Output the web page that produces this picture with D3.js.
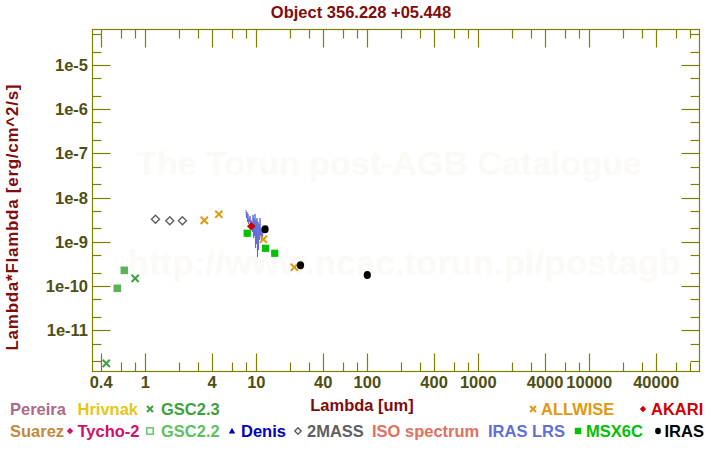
<!DOCTYPE html>
<html><head><meta charset="utf-8">
<script src="https://cdn.jsdelivr.net/npm/d3@7"></script>
<style>
body{margin:0;background:#fff}
svg{display:block}
text{font-family:"Liberation Sans",Arial,Helvetica,sans-serif;font-weight:bold}
</style>
</head><body>
<svg id="c" width="720" height="450"></svg>
<script>
// ---------- data ----------
const title = "Object 356.228 +05.448";
const xLabel = "Lambda [um]";
const yLabel = "Lambda*Flambda [erg/cm^2/s]";
const xTickLabels = ["0.4","1","4","10","40","100","400","1000","4000","10000","40000"];
const yTickLabels = ["1e-5","1e-6","1e-7","1e-8","1e-9","1e-10","1e-11"];
const watermark1 = "The Torun post-AGB Catalogue";
const watermark2 = "http://www.ncac.torun.pl/postagb";

// [lambda (um), lambda*F_lambda (erg/cm^2/s)]
const gsc23   = [[0.81,1.49e-10],[0.445,1.78e-12]];
const gsc22   = [[0.56,8.87e-11],[0.647,2.26e-10]];
const twoMass = [[1.235,3.23e-9],[1.662,3.0e-9],[2.159,3.0e-9]];
const allwise = [[3.4,3.06e-9],[4.6,4.19e-9],[11.6,1.14e-9],[22,2.65e-10]];
const akari   = [[9.0,2.24e-9]];
const msx6c   = [[8.28,1.56e-9],[12.13,7.13e-10],[14.65,5.5e-10]];
const iras    = [[12,1.92e-9],[25,2.94e-10],[100,1.77e-10]];
const lrsLambda = [8.08,8.16,8.25,8.33,8.42,8.51,8.60,8.69,8.78,8.87,8.96,9.05,9.15,9.24,9.34,9.44,9.54,9.63,9.73,9.84,9.94,10.04,10.15,10.25,10.36,10.47,10.58,10.69,10.80,10.91,11.02,11.14,11.26,11.37,11.49];
const lrsFlux9  = [5.24,3.45,4.72,2.81,4.26,2.53,3.45,2.81,3.83,2.28,3.11,2.05,2.81,1.67,4.04,1.22,3.45,1.35,4.26,0.72,3.11,0.89,3.45,0.45,2.81,0.65,2.53,1.10,3.45,1.35,2.05,0.99,1.85,1.22,1.67]; // x 1e-9

const legendRows = [
  [ {name:"Pereira",color:"#b0688a",sym:null},
    {name:"Hrivnak",color:"#e6c619",sym:null},
    {name:"GSC2.3",color:"#40a040",sym:"cross"},
    {name:"ALLWISE",color:"#e09a10",sym:"cross"},
    {name:"AKARI",color:"#d00000",sym:"fdiamond"} ],
  [ {name:"Suarez",color:"#c08a40",sym:null},
    {name:"Tycho-2",color:"#d0106a",sym:"fdiamond"},
    {name:"GSC2.2",color:"#60c060",sym:"hsquare"},
    {name:"Denis",color:"#0000c0",sym:"triangle"},
    {name:"2MASS",color:"#606060",sym:"hdiamond"},
    {name:"ISO spectrum",color:"#e07060",sym:null},
    {name:"IRAS LRS",color:"#6070d8",sym:null},
    {name:"MSX6C",color:"#00c000",sym:"fsquare"},
    {name:"IRAS",color:"#000000",sym:"circle"} ]
];

// ---------- layout ----------
const L = 92.5, R = 699.5, T = 29.5, B = 371.5;
const legendLayout = [
  {y:415, items:[{tx:10},{tx:77.5},{mx:150,tx:161},{mx:533,tx:541},{mx:643,tx:651}]},
  {y:437, items:[{tx:10},{mx:70,tx:77.5},{mx:150,tx:161},{mx:232,tx:241},{mx:298,tx:307},{tx:372},{tx:488},{mx:578,tx:586},{mx:658,tx:664.5}]}
];
const axisColor = "#808000", tickText = "#4f4f14", titleColor = "#800c0c";
const FS = 16.5;

const svg = d3.select("#c");
const x = d3.scaleLog().domain([0.3344, 98350]).range([L, R]);
const y = d3.scaleLog().domain([1.164e-12, 6.35e-5]).range([B, T]);

// watermark
svg.append("text").attr("x",389).attr("y",175).attr("text-anchor","middle")
  .attr("font-size",34).attr("fill","#fbfaf6").text(watermark1);
svg.append("text").attr("x",404).attr("y",275).attr("text-anchor","middle")
  .attr("font-size",35).attr("fill","#fbfaf6").text(watermark2);

// ticks
const xTicks = [];
for (let d=-1; d<=4; d++) for (const m of [1,2,3,4,6,8]) {
  const v = m*Math.pow(10,d);
  if (v>=x.domain()[0] && v<=x.domain()[1]) xTicks.push({v, major: xTickLabels.includes(String(+v.toPrecision(3)))});
}
const yTicks = [];
for (let d=-12; d<=-5; d++) for (const m of [1,2,5]) {
  const v = m*Math.pow(10,d);
  if (v>=y.domain()[0] && v<=y.domain()[1]) yTicks.push({v, major: m===1});
}
const g = svg.append("g").attr("stroke",axisColor).attr("stroke-width",1.2);
xTicks.forEach(t=>{
  const px = Math.round(x(t.v))+0.5, len = t.major?18:9;
  g.append("line").attr("x1",px).attr("x2",px).attr("y1",B).attr("y2",B-len);
  g.append("line").attr("x1",px).attr("x2",px).attr("y1",T).attr("y2",T+len);
});
yTicks.forEach(t=>{
  const py = Math.round(y(t.v))+0.5, len = t.major?18:9;
  g.append("line").attr("x1",L).attr("x2",L+len).attr("y1",py).attr("y2",py);
  g.append("line").attr("x1",R).attr("x2",R-len).attr("y1",py).attr("y2",py);
});
g.append("rect").attr("x",L).attr("y",T).attr("width",R-L).attr("height",B-T).attr("fill","none");

// tick labels
xTickLabels.forEach(s=>{
  svg.append("text").attr("x",x(+s)).attr("y",388).attr("text-anchor","middle")
    .attr("font-size",FS).attr("fill",tickText).text(s);
});
yTickLabels.forEach(s=>{
  svg.append("text").attr("x",88).attr("y",y(+s)+6).attr("text-anchor","end")
    .attr("font-size",FS).attr("fill",tickText).text(s);
});

// titles
svg.append("text").attr("x",361).attr("y",18).attr("text-anchor","middle")
  .attr("font-size",FS).attr("fill",titleColor).text(title);
svg.append("text").attr("x",362).attr("y",411).attr("text-anchor","middle")
  .attr("font-size",FS).attr("fill",titleColor).text(xLabel);
svg.append("text").attr("transform","translate(18,217.5) rotate(-90)").attr("text-anchor","middle")
  .attr("font-size",17).attr("textLength",266).attr("lengthAdjust","spacing")
  .attr("fill",titleColor).text(yLabel);

// pattern for GSC2.2 points
const defs = svg.append("defs");
const pat = defs.append("pattern").attr("id","chk").attr("width",2).attr("height",2).attr("patternUnits","userSpaceOnUse");
pat.append("rect").attr("width",2).attr("height",2).attr("fill","#7cc87c");
pat.append("rect").attr("width",1).attr("height",1).attr("fill","#3a9a3a");
pat.append("rect").attr("x",1).attr("y",1).attr("width",1).attr("height",1).attr("fill","#3a9a3a");

// symbol drawing
function sym(sel, type, color, s) {
  if (type==="cross") return sel.append("path").attr("d",`M${-s},${-s}L${s},${s}M${-s},${s}L${s},${-s}`)
    .attr("stroke",color).attr("stroke-width",2).attr("fill","none");
  if (type==="fdiamond") return sel.append("path").attr("d",`M0,${-s}L${s},0L0,${s}L${-s},0Z`).attr("fill",color);
  if (type==="hdiamond") return sel.append("path").attr("d",`M0,${-s}L${s},0L0,${s}L${-s},0Z`)
    .attr("fill","none").attr("stroke",color).attr("stroke-width",1.4);
  if (type==="hsquare") return sel.append("rect").attr("x",-s).attr("y",-s).attr("width",2*s).attr("height",2*s)
    .attr("fill","none").attr("stroke",color).attr("stroke-width",1.4);
  if (type==="csquare") return sel.append("rect").attr("x",-s).attr("y",-s).attr("width",2*s).attr("height",2*s).attr("fill","url(#chk)");
  if (type==="fsquare") return sel.append("rect").attr("x",-s).attr("y",-s).attr("width",2*s).attr("height",2*s).attr("fill",color);
  if (type==="triangle") return sel.append("path").attr("d",`M0,${-s}L${s},${s*0.8}L${-s},${s*0.8}Z`).attr("fill",color);
  if (type==="circle") return sel.append("ellipse").attr("rx",s*0.9).attr("ry",s).attr("fill",color);
}

// IRAS LRS spectrum
const lrs = lrsLambda.map((l,i)=>[l, lrsFlux9[i]*1e-9]);
svg.append("path").datum(lrs)
  .attr("d", d3.line().x(d=>x(d[0])).y(d=>y(d[1])))
  .attr("fill","none").attr("stroke","#5868d8").attr("stroke-width",0.9);

function plot(data, type, color, s) {
  data.forEach(d=>{
    const gg = svg.append("g").attr("transform",`translate(${x(d[0])},${y(d[1])})`);
    sym(gg, type, color, s);
  });
}
plot(gsc22, "csquare", "#60c060", 3.8);
plot(gsc23, "cross", "#40a040", 3.6);
plot(twoMass, "hdiamond", "#606060", 4);
plot(msx6c, "fsquare", "#00c000", 3.6);
plot(akari, "fdiamond", "#d00000", 4.3);
plot(allwise, "cross", "#e09a10", 3.6);
plot(iras, "circle", "#000000", 4);

// legend
legendRows.forEach((row,ri)=>{
  const lay = legendLayout[ri];
  row.forEach((it,ii)=>{
    const p = lay.items[ii];
    if (it.sym) {
      const gg = svg.append("g").attr("transform",`translate(${p.mx},${lay.y-6})`);
      sym(gg, it.sym, it.color, it.sym==="cross"?3:3.2);
    }
    svg.append("text").attr("x",p.tx).attr("y",lay.y).attr("font-size",FS)
      .attr("fill",it.color).text(it.name);
  });
});
</script>
</body></html>
